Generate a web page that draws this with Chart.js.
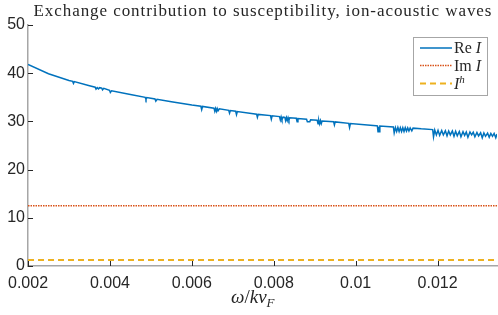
<!DOCTYPE html>
<html>
<head>
<meta charset="utf-8">
<script src="https://cdn.jsdelivr.net/npm/chart.js@4.4.0/dist/chart.umd.min.js"></script>
<style>
  body { margin: 0; background: #fff; }
  canvas { display: block; }
</style>
</head>
<body>
<canvas id="chart" width="498" height="315"></canvas>
<script>
// omega / k v_F sample points for Re I, with the values
const omega = [
  0.0020, 0.0025, 0.0030, 0.00309, 0.00311, 0.00313, 0.0035,
  0.00364, 0.00366, 0.00369, 0.00372, 0.00375, 0.0038, 0.00382, 0.00385,
  0.00399, 0.00401, 0.00404, 0.0045, 0.00486, 0.00488, 0.0049,
  0.0051, 0.00512, 0.00515, 0.0055, 0.0060, 0.00622, 0.00624, 0.00626,
  0.00654, 0.00656, 0.00658, 0.0066, 0.00662, 0.00664, 0.00667,
  0.0069, 0.00692, 0.00694, 0.00707, 0.00709, 0.00711, 0.0075,
  0.00758, 0.0076, 0.00762, 0.00792, 0.00794, 0.00796,
  0.00814, 0.00816, 0.00818, 0.0082, 0.00823, 0.00827, 0.00829, 0.00831, 0.00833, 0.00835, 0.00837, 0.00839,
  0.00855, 0.00857, 0.00859, 0.0088, 0.00882, 0.00888, 0.0089,
  0.00906, 0.00908, 0.0091, 0.00912, 0.00914, 0.00916, 0.00918,
  0.00946, 0.00948, 0.0095, 0.00983, 0.00985, 0.00987,
  0.0105, 0.01053, 0.010545, 0.01056, 0.010575, 0.01059,
  0.01092, 0.01094, 0.01097, 0.0110, 0.01103, 0.01106, 0.01109, 0.01112, 0.01115, 0.01118,
  0.01121, 0.01124, 0.01127, 0.0113, 0.01133, 0.01137, 0.0114, 0.0116,
  0.01188, 0.0119, 0.01193, 0.01197, 0.01201, 0.01205, 0.0121, 0.01214, 0.01219, 0.01223,
  0.01227, 0.01231, 0.01236, 0.0124, 0.01244, 0.01248, 0.01253, 0.01257, 0.01262, 0.01266,
  0.0127, 0.01274, 0.01279, 0.01283, 0.01287, 0.01291, 0.01296, 0.013, 0.01305, 0.01309,
  0.01313, 0.01317, 0.01322, 0.01326, 0.0133, 0.01334, 0.01338, 0.01342, 0.01345
];
const reI = [
  41.8, 39.9, 38.5, 38.3, 37.9, 38.25, 37.4,
  37.1, 36.7, 37.0, 36.75, 37.0, 36.9, 36.55, 36.85,
  36.45, 36.0, 36.35, 35.6, 35.0, 34.55, 34.95,
  34.65, 34.2, 34.6, 34.1, 33.4, 33.15, 32.45, 33.1,
  32.75, 32.1, 32.7, 32.1, 32.65, 32.2, 32.6,
  32.3, 31.7, 32.25, 32.1, 31.4, 32.05, 31.6,
  31.5, 30.85, 31.45, 31.2, 30.45, 31.15,
  31.0, 30.3, 30.95, 30.35, 30.9, 30.85, 30.15, 30.8, 30.2, 30.8, 30.25, 30.75,
  30.65, 29.95, 30.6, 30.45, 29.95, 29.95, 30.35,
  30.25, 29.5, 30.2, 29.5, 30.15, 29.55, 30.1,
  29.95, 29.25, 29.9, 29.6, 28.75, 29.55,
  29.1, 29.08, 27.85, 28.9, 27.85, 29.05,
  28.85, 27.6, 28.7, 27.9, 28.75, 27.9, 28.7, 27.9, 28.7, 27.9,
  28.7, 28.0, 28.65, 28.0, 28.65, 28.05, 28.6, 28.45,
  28.3, 26.8, 28.2, 27.2, 28.15, 27.1, 28.1, 27.2, 28.05, 27.0,
  28.0, 27.2, 28.0, 26.9, 27.95, 27.0, 27.9, 26.8, 27.85, 27.1,
  27.8, 26.7, 27.8, 27.2, 27.75, 26.8, 27.7, 27.0, 27.65, 26.6,
  27.6, 26.9, 27.55, 26.7, 27.5, 26.9, 27.5, 26.6, 27.4
];
const flatOmega = [0.002, 0.01345];
const imI = [12.5, 12.5];
const ihI = [1.25, 1.25];

const xTicks = [0.002, 0.004, 0.006, 0.008, 0.01, 0.012];
const xTickLabels = ['0.002', '0.004', '0.006', '0.008', '0.01', '0.012'];
const yTicks = [0, 10, 20, 30, 40, 50];

function pts(xs, ys) {
  return xs.map((x, i) => ({ x: x, y: ys[i] }));
}

// draws a run of text pieces with their own style / size / vertical shift
function richText(ctx, parts, x, y) {
  let cx = x;
  parts.forEach(p => {
    ctx.font = (p.italic ? 'italic ' : '') + p.size + 'px "Liberation Serif", serif';
    ctx.fillText(p.t, cx, y + (p.dy || 0));
    cx += ctx.measureText(p.t).width;
  });
}

const legendParts = [
  [{ t: 'Re ', size: 16 }, { t: 'I', size: 16, italic: true }],
  [{ t: 'Im ', size: 16 }, { t: 'I', size: 16, italic: true }],
  [{ t: 'I', size: 16, italic: true }, { t: 'h', size: 11, italic: true, dy: -6 }]
];

const decorations = {
  id: 'decorations',
  afterDatasetsDraw(chart) {
    const ctx = chart.ctx;
    const xs = chart.scales.x, ys = chart.scales.y;
    const area = chart.chartArea;
    ctx.save();
    // inward tick marks
    ctx.strokeStyle = '#262626';
    ctx.lineWidth = 1;
    ctx.beginPath();
    xTicks.forEach(v => {
      const px = Math.round(xs.getPixelForValue(v)) + 0.5;
      ctx.moveTo(px, area.bottom);
      ctx.lineTo(px, area.bottom - 5);
    });
    yTicks.forEach(v => {
      const py = Math.round(ys.getPixelForValue(v)) + 0.5;
      ctx.moveTo(area.left, py);
      ctx.lineTo(area.left + 5, py);
    });
    ctx.stroke();
    ctx.restore();
  },
  afterDraw(chart) {
    const ctx = chart.ctx;
    const area = chart.chartArea;
    ctx.save();
    ctx.fillStyle = '#262626';
    ctx.textBaseline = 'alphabetic';

    // title: 17px serif, letter spacing stretched to the width it has in the figure
    const title = 'Exchange contribution to susceptibility, ion-acoustic waves';
    ctx.font = '17px "Liberation Serif", serif';
    const extra = (458 - ctx.measureText(title).width) / (title.length - 1);
    ctx.letterSpacing = extra.toFixed(2) + 'px';
    ctx.textAlign = 'center';
    ctx.fillText(title, (area.left + area.right) / 2 + extra / 2, 16);
    ctx.letterSpacing = '0px';

    // x axis label  omega / k v_F
    ctx.textAlign = 'left';
    richText(ctx, [
      { t: 'ω', size: 19, italic: true },
      { t: '/', size: 19 },
      { t: 'kv', size: 19, italic: true },
      { t: 'F', size: 13, italic: true, dy: 4 }
    ], 231, 303);

    // legend box
    ctx.fillStyle = '#fff';
    ctx.fillRect(413.5, 37.5, 74, 58);
    ctx.strokeStyle = '#a6a6a6';
    ctx.lineWidth = 1;
    ctx.strokeRect(413.5, 37.5, 74, 58);
    const rows = [48, 65.5, 83.5];
    chart.data.datasets.forEach((ds, i) => {
      ctx.strokeStyle = ds.borderColor;
      ctx.lineWidth = ds.borderWidth;
      ctx.setLineDash(ds.borderDash || []);
      ctx.beginPath();
      ctx.moveTo(420, rows[i]);
      ctx.lineTo(452, rows[i]);
      ctx.stroke();
      ctx.setLineDash([]);
      ctx.fillStyle = '#262626';
      richText(ctx, legendParts[i], 454, rows[i] + 5);
    });
    ctx.restore();
  }
};

new Chart(document.getElementById('chart'), {
  type: 'line',
  data: {
    datasets: [{
      label: 'Re I',
      data: pts(omega, reI),
      borderColor: '#0072BD',
      borderWidth: 1.5,
      pointRadius: 0,
      tension: 0,
      fill: false
    }, {
      label: 'Im I',
      data: pts(flatOmega, imI),
      borderColor: '#D95319',
      borderWidth: 1.5,
      borderDash: [1.5, 1],
      pointRadius: 0,
      fill: false
    }, {
      label: 'I^h',
      data: pts(flatOmega, ihI),
      borderColor: '#EDB120',
      borderWidth: 1.8,
      borderDash: [6, 4],
      pointRadius: 0,
      fill: false
    }]
  },
  options: {
    responsive: false,
    animation: false,
    devicePixelRatio: 1,
    layout: { padding: { left: 0, right: 1, top: 25, bottom: 0 } },
    plugins: {
      legend: { display: false },
      tooltip: { enabled: false },
      title: { display: false }
    },
    scales: {
      x: {
        type: 'linear',
        min: 0.002,
        max: 0.01345,
        afterBuildTicks: s => { s.ticks = xTicks.map(v => ({ value: v })); },
        afterFit: s => { s.height = 49; },
        grid: { display: false, drawTicks: false },
        border: { display: true, color: '#a6a6a6', width: 1.5 },
        ticks: {
          callback: (v, i) => xTickLabels[i],
          color: '#262626',
          font: { family: '"Liberation Sans", Arial, sans-serif', size: 16 },
          padding: 8,
          maxRotation: 0,
          autoSkip: false
        }
      },
      y: {
        min: 0,
        max: 50,
        afterBuildTicks: s => { s.ticks = yTicks.map(v => ({ value: v })); },
        afterFit: s => { s.width = 24; },
        grid: { display: false, drawTicks: false },
        border: { display: true, color: '#a6a6a6', width: 1.5 },
        ticks: {
          color: '#262626',
          font: { family: '"Liberation Sans", Arial, sans-serif', size: 16 },
          padding: 3
        }
      }
    }
  },
  plugins: [decorations]
});
</script>
</body>
</html>
